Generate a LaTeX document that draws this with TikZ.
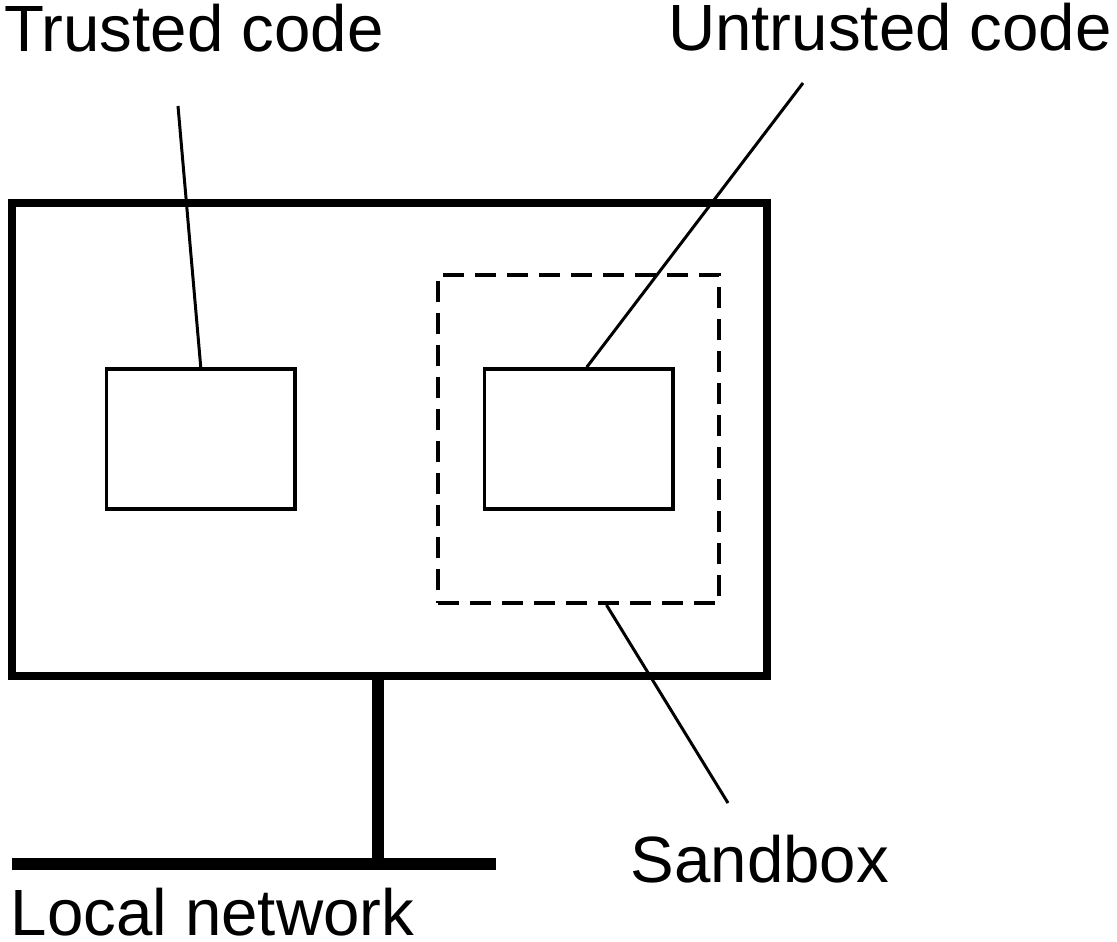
\documentclass[tikz,border=0pt]{standalone}
\usepackage{fontspec}
\setmainfont{Liberation Sans}
\usetikzlibrary{calc}

\tikzset{
  lbl/.style={font=\fontsize{18.6}{22}\selectfont, inner sep=0pt},
  box/.style={draw, line width=1pt, minimum width=1.885cm, minimum height=1.40cm},
  leader/.style={line width=0.85pt},
}

\begin{document}
\begin{tikzpicture}[x=0.01cm, y=-0.01cm]
		%%%%% START %%%%%
		\useasboundingbox (0,0) rectangle (1117,942);
		
		% monitor with the two code boxes
		\node[draw, line width=2.3pt, minimum width=7.55cm, minimum height=4.73cm] (screen) at (389.5,439.5) {};
		\node[box] (trusted) at (200.75,439) {};
		\node[box] (untrusted) at (578.75,439) {};
		\node[draw, line width=1.1pt, dash pattern=on 0.21cm off 0.11cm, minimum width=2.81cm, minimum height=3.28cm] (sandbox) at (578.5,439) {};
		
		% stand and network
		\coordinate (netL) at (12,864);
		\coordinate (netR) at (496,864);
		\coordinate (foot) at (378,864);
		\draw[line width=3.4pt] (netL) -- (netR);
		\draw[line width=3.4pt] (foot |- screen.south) -- (foot);
		
		% labels
		\node[lbl, anchor=base west] (trustedlbl) at (3.5,51) {Trusted code};
		\node[lbl, anchor=base east] (untrustedlbl) at (1112.5,50) {Untrusted code};
		\node[lbl, anchor=base west] (sandboxlbl) at (630,882) {Sandbox};
		\node[lbl, anchor=base west, text depth=0pt] (netlbl) at (10,935) {Local network};
		
		% leaders
		\coordinate (tA) at (178,106);
		\coordinate (uA) at (803,83);
		\coordinate (sA) at (728,803);
		\draw[leader] (tA) -- (trusted.north);
		\draw[leader] (uA) -- ($(untrusted.north)+(8,0)$);
		\draw[leader] ($(sandbox.south)+(28,0)$) -- (sA);
		
		%%%%% END %%%%%
\end{tikzpicture}
\end{document}
